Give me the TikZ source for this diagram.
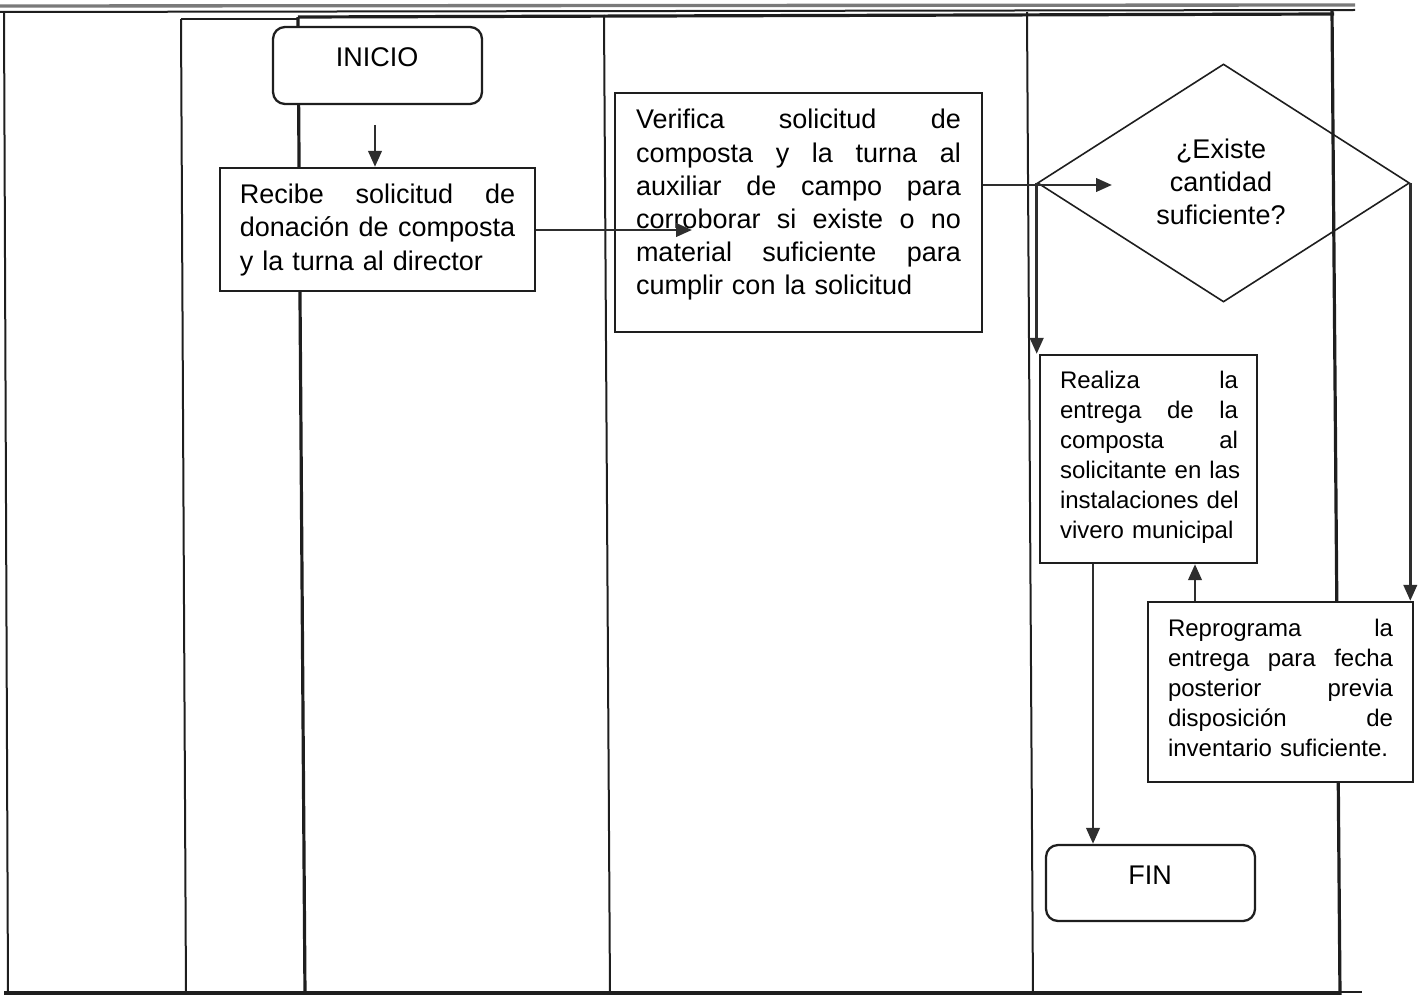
\documentclass[tikz,border=0pt]{standalone}
\usepackage{fontspec}
\setmainfont{Liberation Sans}
\usetikzlibrary{arrows.meta,shapes.geometric,calc}
\definecolor{ink}{HTML}{1E1E1E}
\definecolor{arrowc}{HTML}{2E2E2E}
\definecolor{edge}{HTML}{7A7A7A}
\newcommand\jl[2]{\leavevmode\hbox to #1{\spaceskip=.3333em plus 1fil\relax #2}}
\tikzset{
 box/.style={draw=ink,line width=1.7pt,fill=white,inner sep=0pt},
 rbox/.style={box,rounded corners=9pt},
 lane/.style={draw=ink,line width=1.5pt},
 thicklane/.style={draw=ink,line width=2.4pt},
 arr/.style={draw=arrowc,line width=2.2pt,-{Triangle[length=12pt,width=10pt]}},
 bigtxt/.style={font=\fontsize{20.25pt}{24.9pt}\selectfont,inner sep=0pt},
 smalltxt/.style={font=\fontsize{18pt}{22.5pt}\selectfont,inner sep=0pt},
}
\begin{document}
\begin{tikzpicture}[x=0.75pt,y=-0.75pt]
\useasboundingbox (0,0) rectangle (1422,995);
% table frame and lanes
\draw[edge,line width=2.5pt] (0,6) -- (1355,5);
\draw[lane] (0,12) -- (1355,10);
\draw[lane] (181,19) -- (298,19);
\draw[thicklane] (298,17) -- (1334,14);
\draw[lane] (4,12) -- (8,995);
\draw[lane] (181,19) -- (186,995);
\draw[thicklane] (298,17) -- (305,995);
\draw[lane] (604,15) -- (610,995);
\draw[lane] (1027,12) -- (1033,995);
\draw[thicklane] (1332,10) -- (1340,995);
\draw[thicklane] (4,993) -- (1340,993);
\draw[lane] (1340,992) -- (1362,992);
% nodes
\node[rbox,minimum width=156.75pt,minimum height=57.75pt] (inicio) at (377.5,65.5) {};
\node[bigtxt] (inicio-t) at (377,57) {INICIO};
\node[box,minimum width=236.25pt,minimum height=92.25pt] (recibe) at (377.5,229.5) {};
\node[bigtxt,text width=206.5pt,align=left] (recibe-t) at (377.5,230)
 {\jl{206.5pt}{Recibe solicitud de}\\\jl{206.5pt}{donación de composta}\\y la turna al director};
\node[box,minimum width=275.25pt,minimum height=179.25pt] (verifica) at (798.5,212.5) {};
\node[bigtxt,text width=243.75pt,align=left] (verifica-t) at (798.5,205)
 {\jl{243.75pt}{Verifica solicitud de}\\\jl{243.75pt}{composta y la turna al}\\\jl{243.75pt}{auxiliar de campo para}\\\jl{243.75pt}{corroborar si existe o no}\\\jl{243.75pt}{material suficiente para}\\cumplir con la solicitud};
\node[diamond,draw=ink,line width=1.2pt,minimum width=279pt,minimum height=178.5pt,inner sep=0pt] (dia) at (1223.5,183) {};
\node[bigtxt,align=center] (dia-t) at (1221,182) {¿Existe\\cantidad\\suficiente?};
\node[box,minimum width=162.75pt,minimum height=156pt] (realiza) at (1148.5,459) {};
\node[smalltxt,text width=133.5pt,align=left] (realiza-t) at (1149,457)
 {\jl{133.5pt}{Realiza la}\\\jl{133.5pt}{entrega de la}\\\jl{133.5pt}{composta al}\\\jl{133.5pt}{solicitante en las}\\\jl{133.5pt}{instalaciones del}\\vivero municipal};
\node[box,minimum width=198.75pt,minimum height=135pt] (reprog) at (1280.5,692) {};
\node[smalltxt,text width=168.75pt,align=left] (reprog-t) at (1280.5,688)
 {\jl{168.75pt}{Reprograma la}\\\jl{168.75pt}{entrega para fecha}\\\jl{168.75pt}{posterior previa}\\\jl{168.75pt}{disposición de}\\inventario suficiente.};
\node[rbox,minimum width=156.75pt,minimum height=57pt] (fin) at (1150.5,883) {};
\node[bigtxt] (fin-t) at (1150,875) {FIN};
% connectors
\coordinate (a1) at (375,125);
\draw[arr] (a1) -- (a1 |- recibe.north);
\coordinate (a2) at (692,230);
\draw[arr] (recibe.east |- a2) -- (a2);
\coordinate (a3) at (1112,185);
\draw[arr] (a3 -| verifica.east) -- (a3);
\draw[arr] (dia.west) -- (dia.west |- realiza.north);
\draw[arr] (dia.east) -- (dia.east |- reprog.north);
\coordinate (a6) at (1195,0);
\draw[arr] (a6 |- reprog.north) -- (a6 |- realiza.south);
\coordinate (a7) at (1093,0);
\draw[arr] (a7 |- realiza.south) -- (a7 |- fin.north);
\end{tikzpicture}
\end{document}
